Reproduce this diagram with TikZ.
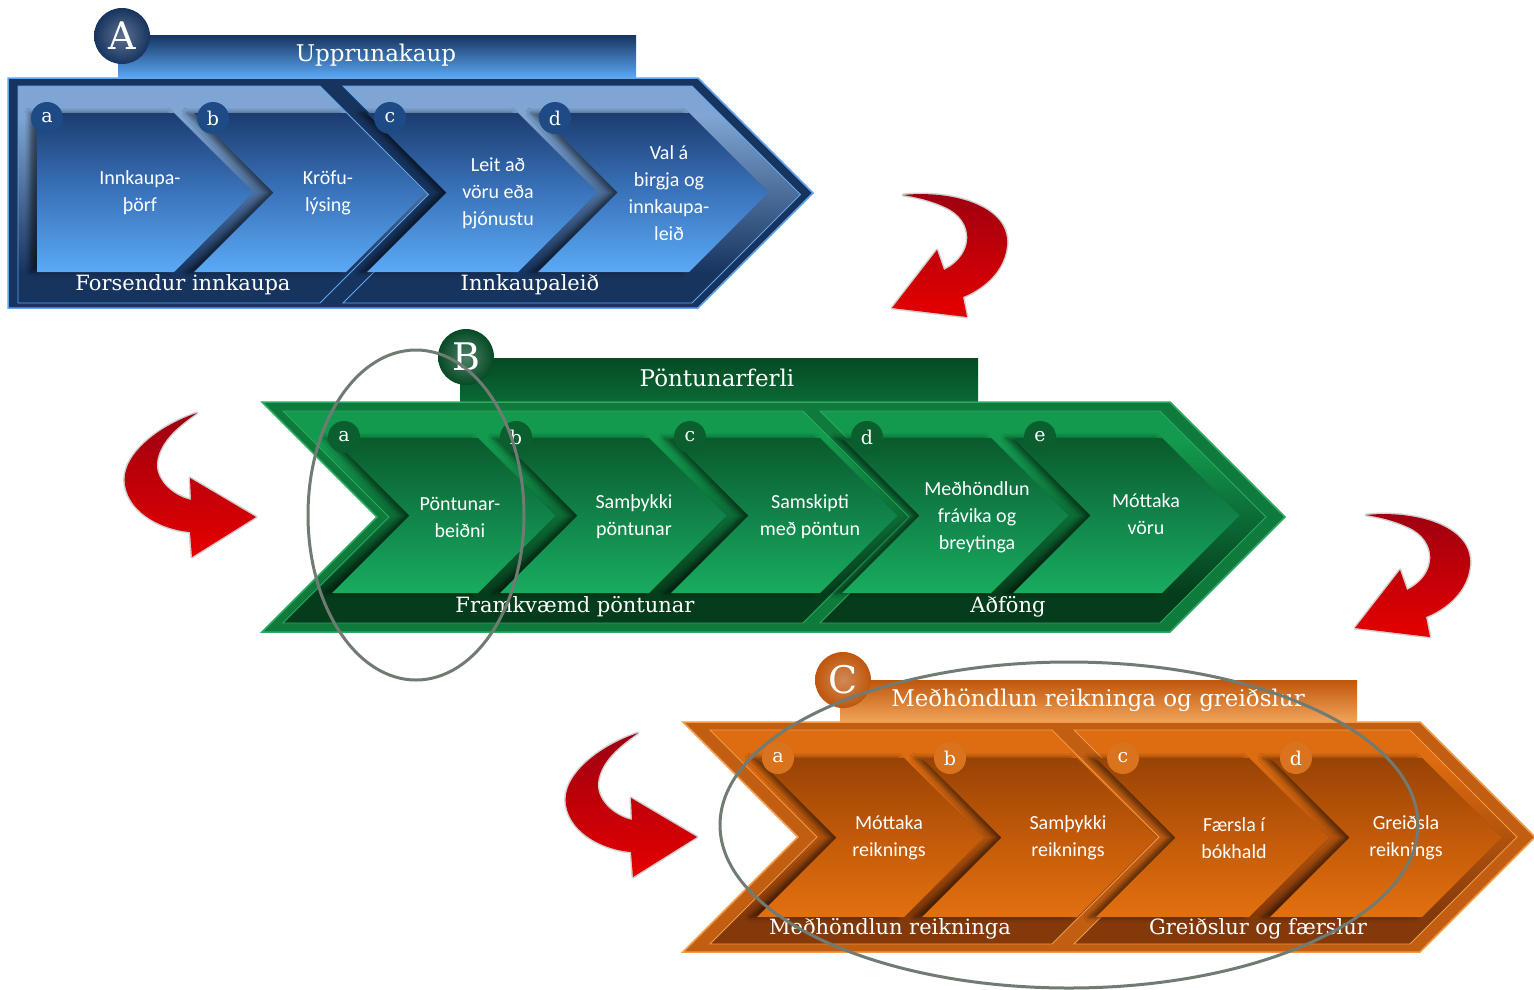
\documentclass[tikz,border=0pt]{standalone}
\usepackage{fontspec}
\setmainfont{DejaVu Serif}
\newfontfamily\stepfont{Carlito}
\usetikzlibrary{shadows.blur}

% blue (A)
\definecolor{navyA}{HTML}{17345F}
\definecolor{rimA}{HTML}{5EA6EE}
\definecolor{steelA}{HTML}{7EA5D3}
\definecolor{stepAtop}{HTML}{1C3C70}
\definecolor{stepAmid}{HTML}{3A74BC}
\definecolor{stepAbot}{HTML}{5BA9F5}
\definecolor{dotA}{HTML}{1E4A86}
% green (B)
\definecolor{outerGB}{HTML}{0E7A3C}
\definecolor{rimB}{HTML}{2DAA60}
\definecolor{darkB}{HTML}{053D1C}
\definecolor{lightB}{HTML}{139A4E}
\definecolor{stepBtop}{HTML}{0A5A2B}
\definecolor{stepBmid}{HTML}{11834A}
\definecolor{stepBbot}{HTML}{19AC5E}
\definecolor{tabBtop}{HTML}{054A25}
\definecolor{tabBbot}{HTML}{0A6A34}
\definecolor{dotB}{HTML}{0B5E2E}
% orange (C)
\definecolor{outerOC}{HTML}{C25E12}
\definecolor{rimC}{HTML}{F09A4A}
\definecolor{darkC}{HTML}{84390A}
\definecolor{lightC}{HTML}{DE6C10}
\definecolor{stepCtop}{HTML}{984305}
\definecolor{stepCmid}{HTML}{C25A0A}
\definecolor{stepCbot}{HTML}{E2700F}
\definecolor{tabCtop}{HTML}{BF560C}
\definecolor{tabCbot}{HTML}{F1A55B}
\definecolor{dotC}{HTML}{D9731E}
% arrows and marks
\definecolor{arrowtop}{HTML}{9C0012}
\definecolor{arrowbot}{HTML}{E60000}
\definecolor{markgray}{HTML}{6F7B73}

\pgfdeclareverticalshading{panelshadeA}{100bp}{color(0bp)=(navyA); color(32bp)=(navyA); color(68bp)=(steelA); color(100bp)=(steelA)}
\pgfdeclareverticalshading{panelshadeB}{100bp}{color(0bp)=(darkB); color(32bp)=(darkB); color(68bp)=(lightB); color(100bp)=(lightB)}
\pgfdeclareverticalshading{panelshadeC}{100bp}{color(0bp)=(darkC); color(32bp)=(darkC); color(68bp)=(lightC); color(100bp)=(lightC)}

\def\flatchev[#1](#2:#3:#4:#5){\path[#1] (#2,#4) -- (#3,#4) -- ({#3+(#5-#4)/2},{(#4+#5)/2}) -- (#3,#5) -- (#2,#5) -- cycle;}
\def\notchchev[#1](#2:#3:#4:#5){\path[#1] (#2,#4) -- (#3,#4) -- ({#3+(#5-#4)/2},{(#4+#5)/2}) -- (#3,#5) -- (#2,#5) -- ({#2+(#5-#4)/2},{(#4+#5)/2}) -- cycle;}

\tikzset{
	stepshade/.style={blur shadow={shadow xshift=-7pt, shadow yshift=0pt, shadow blur radius=5pt, shadow opacity=55}},
	outerA/.style={fill=navyA, draw=rimA, line width=1.5pt},
	outerB/.style={fill=outerGB, draw=rimB, line width=1.5pt},
	outerC/.style={fill=outerOC, draw=rimC, line width=1.5pt},
	panelA/.style={shading=panelshadeA, draw=rimA, line width=.8pt},
	panelB/.style={shading=panelshadeB, draw=rimB, line width=.8pt},
	panelC/.style={shading=panelshadeC, draw=rimC, line width=.8pt},
	stepA/.style={stepshade, top color=stepAtop, bottom color=stepAbot, middle color=stepAmid},
	stepB/.style={stepshade, top color=stepBtop, bottom color=stepBbot, middle color=stepBmid},
	stepC/.style={stepshade, top color=stepCtop, bottom color=stepCbot, middle color=stepCmid},
	steptext/.style={text=white, align=center, font=\stepfont\fontsize{20}{27}\selectfont},
	grouptext/.style={text=white, font=\fontsize{21}{21}\selectfont},
	titletext/.style={text=white, font=\fontsize{23}{23}\selectfont},
	letterdot/.style={circle, fill=#1, text=white, minimum size=32pt, inner sep=0pt, font=\fontsize{19}{19}\selectfont},
	bigdot/.style={circle, inner color=#1!70!white, outer color=#1, text=white, minimum size=56pt, inner sep=0pt, font=\fontsize{38}{38}\selectfont},
	redturn/.style={top color=arrowtop, bottom color=arrowbot, preaction={draw=black!18, line width=3pt, line join=round}},
	markring/.style={draw=markgray, line width=3pt},
	turndown/.pic={\path[redturn] (11,-113) .. controls (58,-118) and (118,-103) .. (115,-63) .. controls (113,-38) and (93,-20) .. (71,-11) -- (75,9) -- (0,0) -- (45,-58) -- (52,-38) .. controls (83,-53) and (83,-88) .. (53,-101) .. controls (38,-108) and (23,-111) .. (11,-113) -- cycle;},
	turnright/.pic={\path[redturn] (-59,-104) .. controls (-96,-92) and (-136,-62) .. (-131,-32) .. controls (-126,-2) and (-91,13) .. (-66,15) -- (-64,40) -- (0,0) -- (-66,-39) -- (-65,-17) .. controls (-86,-22) and (-101,-39) .. (-99,-55) .. controls (-96,-77) and (-76,-92) .. (-59,-104) -- cycle;}
}

\begin{document}
\begin{tikzpicture}[x=1pt, y=-1pt]
		%%%%% START %%%%%
		\useasboundingbox[fill=white] (0,0) rectangle (1534,989);
		
		% A : Upprunakaup
		\path[top color=navyA, bottom color=stepAbot] (118,35) rectangle (636,78);
		\flatchev[outerA](8:698:78:308)
		\flatchev[panelA](18:320:86:303)
		\notchchev[panelA](343:692:86:303)
		\flatchev[stepA](37:174:113:272)
		\notchchev[stepA](194:346:113:272)
		\notchchev[stepA](367:518:113:272)
		\notchchev[stepA](538:689:113:272)
		
		\node[bigdot=navyA] (bigA) at (122,36) {A};
		\node[titletext] (tA) at (376,55) {Upprunakaup};
		\node[letterdot=dotA] (dAa) at (47,118) {a};
		\node[letterdot=dotA] (dAb) at (213,118) {b};
		\node[letterdot=dotA] (dAc) at (390,118) {c};
		\node[letterdot=dotA] (dAd) at (555,118) {d};
		\node[steptext] (sAa) at (140,193) {Innkaupa-\\þörf};
		\node[steptext] (sAb) at (328,193) {Kröfu-\\lýsing};
		\node[steptext] (sAc) at (498,193) {Leit að\\vöru eða\\þjónustu};
		\node[steptext] (sAd) at (669,193) {Val á\\birgja og\\innkaupa-\\leið};
		\node[grouptext] (gA1) at (183,285) {Forsendur innkaupa};
		\node[grouptext] (gA2) at (530,285) {Innkaupaleið};
		
		% B : Pöntunarferli
		\path[top color=tabBtop, bottom color=tabBbot] (460,358) rectangle (978,402);
		\notchchev[outerB](262:1170:402:632)
		\notchchev[panelB](283:803:411:623)
		\notchchev[panelB](820:1160:411:623)
		\notchchev[stepB](332:478:438:593)
		\notchchev[stepB](500:649:438:593)
		\notchchev[stepB](671:820:438:593)
		\notchchev[stepB](842:991:438:593)
		\notchchev[stepB](1013:1162:438:593)
		
		\node[bigdot=tabBtop] (bigB) at (466,357) {B};
		\node[titletext] (tB) at (717,378) {Pöntunarferli};
		\node[letterdot=dotB] (dBa) at (344,437) {a};
		\node[letterdot=dotB] (dBb) at (516,437) {b};
		\node[letterdot=dotB] (dBc) at (690,437) {c};
		\node[letterdot=dotB] (dBd) at (867,437) {d};
		\node[letterdot=dotB] (dBe) at (1040,437) {e};
		\node[steptext] (sBa) at (460,517) {Pöntunar-\\beiðni};
		\node[steptext] (sBb) at (634,517) {Samþykki\\pöntunar};
		\node[steptext] (sBc) at (810,517) {Samskipti\\með pöntun};
		\node[steptext] (sBd) at (977,517) {Meðhöndlun\\frávika og\\breytinga};
		\node[steptext] (sBe) at (1146,514) {Móttaka\\vöru};
		\node[grouptext] (gB1) at (575,607) {Framkvæmd pöntunar};
		\node[grouptext] (gB2) at (1008,607) {Aðföng};
		
		% C : Meðhöndlun reikninga og greiðslur
		\path[top color=tabCtop, bottom color=tabCbot] (840,680) rectangle (1357,722);
		\notchchev[outerC](683:1420:722:952)
		\notchchev[panelC](710:1052:730:944)
		\notchchev[panelC](1074:1410:730:944)
		\notchchev[stepC](757:904:758:917)
		\notchchev[stepC](922:1077:758:917)
		\notchchev[stepC](1096:1249:758:917)
		\notchchev[stepC](1270:1422:758:917)
		
		\node[bigdot=tabCtop] (bigC) at (843,680) {C};
		\node[titletext] (tC) at (1098,700) {Meðhöndlun reikninga og greiðslur};
		\node[letterdot=dotC] (dCa) at (778,758) {a};
		\node[letterdot=dotC] (dCb) at (950,758) {b};
		\node[letterdot=dotC] (dCc) at (1123,758) {c};
		\node[letterdot=dotC] (dCd) at (1296,758) {d};
		\node[steptext] (sCa) at (889,838) {Móttaka\\reiknings};
		\node[steptext] (sCb) at (1068,838) {Samþykki\\reiknings};
		\node[steptext] (sCc) at (1234,838) {Færsla í\\bókhald};
		\node[steptext] (sCd) at (1406,838) {Greiðsla\\reiknings};
		\node[grouptext] (gC1) at (890,929) {Meðhöndlun reikninga};
		\node[grouptext] (gC2) at (1258,929) {Greiðslur og færslur};
		
		% red turn arrows
		\pic at (892,308) {turndown};
		\pic at (1355,628) {turndown};
		\pic at (256,517) {turnright};
		\pic at (697,837) {turnright};
		
		% marks
		\draw[markring] (416,515) ellipse [x radius=108, y radius=165];
		\draw[markring] (1069,825) ellipse [x radius=349, y radius=163];
		
		%%%%% END %%%%%
\end{tikzpicture}
\end{document}
